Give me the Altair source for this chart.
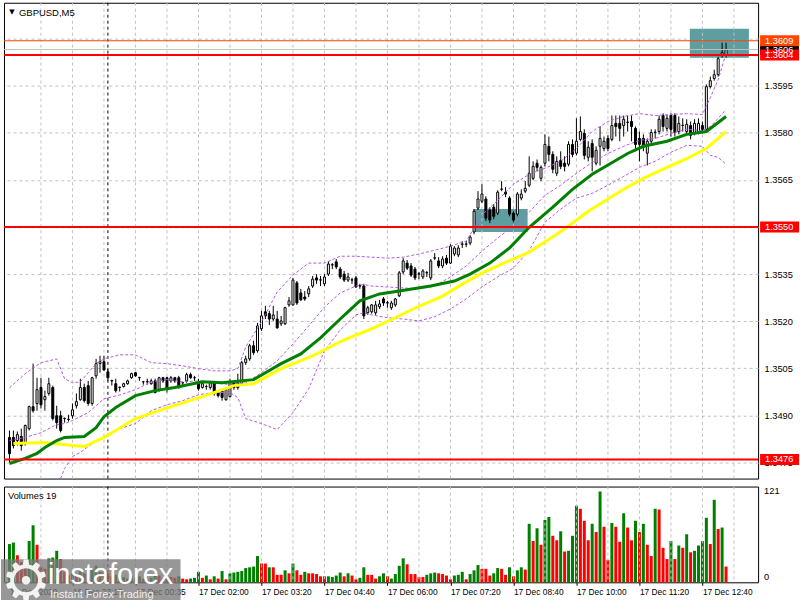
import altair as alt
import pandas as pd

FONT = "Liberation Sans"

# ---------------- price bars (GBPUSD M5) ----------------
OPEN = [1.34830,1.34830,1.34820,1.34833,1.34810,1.34858,1.34928,1.34938,1.34989,1.34950,
        1.34970,1.34989,1.34899,1.34899,1.34890,1.34887,1.34899,1.34931,1.34950,1.34989,
        1.34995,1.34938,1.35026,1.35065,1.35071,1.35039,1.35010,1.35001,1.34989,1.34992,
        1.35001,1.35020,1.35036,1.35020,1.35007,1.35007,1.35001,1.35010,1.34979,1.35020,
        1.35020,1.35010,1.35020,1.35020,1.35004,1.35010,1.35030,1.35020,1.35004,1.34989,
        1.34992,1.34989,1.35004,1.34973,1.34979,1.34950,1.34960,1.35004,1.34989,1.35001,
        1.35068,1.35080,1.35122,1.35106,1.35176,1.35230,1.35224,1.35207,1.35207,1.35192,
        1.35192,1.35252,1.35252,1.35322,1.35290,1.35277,1.35287,1.35312,1.35338,1.35331,
        1.35319,1.35350,1.35379,1.35389,1.35366,1.35350,1.35331,1.35331,1.35338,1.35312,
        1.35312,1.35227,1.35230,1.35227,1.35246,1.35271,1.35258,1.35243,1.35252,1.35281,
        1.35357,1.35385,1.35376,1.35366,1.35350,1.35341,1.35354,1.35338,1.35401,1.35392,
        1.35376,1.35401,1.35385,1.35414,1.35411,1.35445,1.35445,1.35449,1.35484,1.35560,
        1.35582,1.35589,1.35554,1.35563,1.35544,1.35620,1.35611,1.35592,1.35544,1.35541,
        1.35592,1.35614,1.35633,1.35655,1.35703,1.35655,1.35703,1.35757,1.35731,1.35671,
        1.35712,1.35703,1.35700,1.35763,1.35735,1.35779,1.35798,1.35722,1.35766,1.35703,
        1.35757,1.35750,1.35782,1.35779,1.35830,1.35830,1.35823,1.35833,1.35836,1.35814,
        1.35782,1.35782,1.35735,1.35773,1.35801,1.35804,1.35855,1.35814,1.35855,1.35855,
        1.35804,1.35823,1.35804,1.35823,1.35798,1.35801,1.35823,1.35811,1.35947,1.35973,
        1.35985,1.36046,1.36046]
HIGH = [1.34852,1.34852,1.34849,1.34858,1.34871,1.34931,1.35065,1.35020,1.35020,1.34979,
        1.35020,1.34995,1.34931,1.34915,1.34893,1.34902,1.34938,1.34970,1.35017,1.35001,
        1.35010,1.35023,1.35080,1.35090,1.35090,1.35048,1.35014,1.35017,1.34992,1.35004,
        1.35014,1.35036,1.35039,1.35023,1.35010,1.35017,1.35017,1.35017,1.35023,1.35023,
        1.35023,1.35026,1.35023,1.35026,1.35007,1.35036,1.35036,1.35026,1.35017,1.35007,
        1.34998,1.35010,1.35010,1.34979,1.34985,1.34989,1.35017,1.35010,1.35033,1.35074,
        1.35090,1.35128,1.35138,1.35195,1.35233,1.35249,1.35233,1.35249,1.35233,1.35217,
        1.35246,1.35277,1.35338,1.35328,1.35303,1.35296,1.35312,1.35344,1.35350,1.35344,
        1.35350,1.35392,1.35385,1.35398,1.35373,1.35360,1.35354,1.35338,1.35344,1.35319,
        1.35319,1.35249,1.35255,1.35265,1.35268,1.35277,1.35265,1.35265,1.35274,1.35360,
        1.35401,1.35395,1.35385,1.35373,1.35357,1.35366,1.35360,1.35398,1.35417,1.35404,
        1.35407,1.35411,1.35445,1.35439,1.35442,1.35455,1.35455,1.35474,1.35557,1.35614,
        1.35636,1.35598,1.35563,1.35573,1.35617,1.35646,1.35627,1.35598,1.35550,1.35611,
        1.35620,1.35646,1.35725,1.35709,1.35715,1.35696,1.35795,1.35788,1.35741,1.35725,
        1.35741,1.35725,1.35773,1.35779,1.35846,1.35852,1.35811,1.35773,1.35779,1.35757,
        1.35820,1.35788,1.35792,1.35855,1.35855,1.35855,1.35855,1.35855,1.35855,1.35820,
        1.35804,1.35795,1.35782,1.35811,1.35811,1.35855,1.35862,1.35858,1.35862,1.35862,
        1.35852,1.35846,1.35843,1.35836,1.35843,1.35846,1.35836,1.35954,1.35979,1.36001,
        1.36042,1.36087,1.36087]
LOW = [1.34750,1.34795,1.34804,1.34788,1.34804,1.34852,1.34909,1.34915,1.34922,1.34915,
       1.34963,1.34884,1.34858,1.34846,1.34877,1.34880,1.34890,1.34922,1.34947,1.34941,
       1.34931,1.34931,1.35017,1.35036,1.35042,1.35010,1.34995,1.34973,1.34976,1.34989,
       1.34998,1.35017,1.35023,1.35010,1.34998,1.34998,1.34998,1.34970,1.34976,1.35004,
       1.34973,1.35004,1.35004,1.34985,1.34995,1.35004,1.35017,1.35010,1.34979,1.34985,
       1.34982,1.34982,1.34963,1.34957,1.34947,1.34947,1.34957,1.34982,1.34982,1.34995,
       1.35061,1.35074,1.35093,1.35100,1.35169,1.35207,1.35188,1.35201,1.35176,1.35185,
       1.35188,1.35246,1.35249,1.35252,1.35265,1.35265,1.35277,1.35306,1.35319,1.35312,
       1.35312,1.35344,1.35366,1.35366,1.35334,1.35325,1.35325,1.35319,1.35306,1.35303,
       1.35207,1.35220,1.35224,1.35220,1.35239,1.35249,1.35243,1.35236,1.35246,1.35277,
       1.35350,1.35363,1.35341,1.35331,1.35334,1.35334,1.35341,1.35331,1.35395,1.35369,
       1.35369,1.35379,1.35382,1.35407,1.35404,1.35433,1.35436,1.35442,1.35477,1.35554,
       1.35576,1.35519,1.35512,1.35525,1.35538,1.35614,1.35595,1.35534,1.35515,1.35534,
       1.35585,1.35608,1.35627,1.35649,1.35677,1.35646,1.35693,1.35709,1.35671,1.35662,
       1.35684,1.35677,1.35693,1.35722,1.35728,1.35773,1.35715,1.35709,1.35677,1.35696,
       1.35696,1.35741,1.35741,1.35773,1.35788,1.35773,1.35788,1.35804,1.35773,1.35741,
       1.35709,1.35741,1.35696,1.35766,1.35782,1.35795,1.35804,1.35804,1.35788,1.35788,
       1.35795,1.35804,1.35798,1.35779,1.35792,1.35795,1.35798,1.35804,1.35941,1.35966,
       1.35979,1.36039,1.36039]
CLOSE = [1.34778,1.34804,1.34839,1.34804,1.34868,1.34928,1.34915,1.34982,1.34934,1.34960,
         1.35001,1.34890,1.34877,1.34852,1.34891,1.34888,1.34918,1.34944,1.34989,1.34947,
         1.34938,1.35020,1.35065,1.35071,1.35045,1.35020,1.35011,1.34979,1.34990,1.35001,
         1.35010,1.35033,1.35026,1.35021,1.35007,1.35008,1.35010,1.34973,1.35020,1.35010,
         1.34985,1.35020,1.35010,1.34992,1.35004,1.35030,1.35020,1.35020,1.34985,1.35001,
         1.34992,1.35004,1.34970,1.34963,1.34957,1.34982,1.35007,1.34989,1.35004,1.35068,
         1.35080,1.35122,1.35100,1.35185,1.35217,1.35217,1.35207,1.35220,1.35179,1.35201,
         1.35243,1.35265,1.35331,1.35258,1.35268,1.35271,1.35303,1.35334,1.35331,1.35332,
         1.35341,1.35382,1.35380,1.35373,1.35341,1.35331,1.35341,1.35332,1.35309,1.35313,
         1.35217,1.35243,1.35252,1.35252,1.35255,1.35258,1.35259,1.35258,1.35271,1.35354,
         1.35392,1.35369,1.35347,1.35338,1.35351,1.35360,1.35355,1.35392,1.35402,1.35376,
         1.35398,1.35385,1.35439,1.35433,1.35433,1.35446,1.35446,1.35468,1.35550,1.35589,
         1.35605,1.35528,1.35522,1.35534,1.35611,1.35621,1.35605,1.35541,1.35522,1.35605,
         1.35605,1.35623,1.35671,1.35693,1.35690,1.35690,1.35763,1.35731,1.35684,1.35709,
         1.35693,1.35693,1.35763,1.35731,1.35773,1.35804,1.35728,1.35754,1.35722,1.35744,
         1.35782,1.35773,1.35750,1.35823,1.35820,1.35814,1.35843,1.35834,1.35820,1.35763,
         1.35763,1.35754,1.35773,1.35801,1.35802,1.35843,1.35820,1.35846,1.35811,1.35801,
         1.35830,1.35824,1.35827,1.35792,1.35830,1.35830,1.35811,1.35947,1.35966,1.35985,
         1.36036,1.36055,1.36065]

# ---------------- tick volumes ----------------
VOLUME = [51,53,36,27,24,55,76,50,20,18,32,33,42,31,14,10,12,9,15,12,
          10,18,22,14,16,12,8,10,6,7,5,9,6,8,5,4,6,11,9,6,
          10,7,6,8,5,4,5,6,14,6,9,4,8,5,15,4,12,13,14,15,
          19,20,21,35,25,25,20,20,10,10,16,12,25,16,10,14,12,12,11,8,
          8,8,7,9,13,8,12,9,4,6,20,10,10,5,8,12,8,5,11,22,
          32,24,11,11,7,7,10,12,13,12,11,9,4,9,10,14,4,11,16,23,
          18,18,9,12,19,18,10,20,8,16,20,17,78,55,72,50,83,87,62,56,
          68,41,42,62,102,98,82,56,78,67,121,74,30,79,74,54,92,73,56,82,
          67,78,50,35,98,97,46,31,55,31,49,46,64,40,42,49,55,86,51,110,
          71,73,21]
VOL_UP = [1,1,0,0,0,1,1,0,0,0,1,1,1,0,0,0,1,0,1,0,
          0,1,1,0,1,0,0,1,0,1,0,1,0,1,0,0,1,1,0,0,
          1,0,0,1,0,0,1,1,1,0,1,0,1,0,1,0,1,1,1,1,
          1,1,1,1,0,0,1,0,0,0,1,0,1,0,0,1,0,0,0,0,
          0,1,1,1,1,0,1,0,0,1,1,0,0,0,1,1,0,1,1,1,
          1,0,0,0,0,0,1,1,1,0,0,0,0,1,1,1,0,1,1,1,
          0,0,0,1,1,0,0,1,0,1,1,0,1,0,1,0,1,1,0,0,
          1,0,1,1,1,0,0,0,1,0,1,0,0,1,0,0,1,0,0,1,
          0,1,0,0,1,0,0,0,1,0,1,0,1,0,1,1,1,1,0,1,
          0,1,0]

# ---------------- moving averages (read at sample bars) ----------------
GREEN_I = [0,4,7,9,12,14,19,22,24,27,32,37,42,49,54,62,69,74,79,84,
           89,94,99,107,113,117,122,127,132,138,143,148,157,161,167,172,177,182]
GREEN_P = [1.34747,1.34763,1.34779,1.34798,1.34820,1.34830,1.34833,1.34861,1.34896,1.34925,
           1.34963,1.34979,1.34989,1.35007,1.35004,1.35014,1.35065,1.35096,1.35147,1.35207,
           1.35265,1.35287,1.35296,1.35312,1.35328,1.35350,1.35385,1.35433,1.35499,1.35563,
           1.35620,1.35668,1.35734,1.35757,1.35773,1.35795,1.35804,1.35852]
YELLOW_I = [1,9,16,19,24,32,41,49,57,62,69,77,85,92,98,103,110,115,120,125,
            132,139,142,147,156,161,166,172,177,182]
YELLOW_P = [1.34811,1.34814,1.34804,1.34801,1.34830,1.34890,1.34928,1.34960,1.34995,1.35001,
            1.35049,1.35090,1.35141,1.35176,1.35211,1.35242,1.35280,1.35318,1.35353,1.35382,
            1.35420,1.35477,1.35503,1.35550,1.35620,1.35655,1.35684,1.35718,1.35750,1.35804]

# ---------------- Bollinger bands (read at sample bars) ----------------
BB_UP_I = [0,4,8,12,14,16,18,20,22,24,28,32,36,40,44,48,52,56,58,60,
           64,68,72,76,80,84,88,92,96,100,104,108,112,116,120,124,128,132,136,140,
           144,148,152,156,160,164,168,172,176,178,180,182]
BB_UP_P = [1.34988,1.35033,1.35068,1.35080,1.35017,1.35004,1.35007,1.35036,1.35065,1.35080,
           1.35093,1.35093,1.35068,1.35065,1.35058,1.35049,1.35042,1.35042,1.35049,1.35118,
           1.35198,1.35293,1.35347,1.35385,1.35385,1.35407,1.35407,1.35404,1.35401,1.35404,
           1.35414,1.35426,1.35439,1.35455,1.35538,1.35585,1.35636,1.35668,1.35687,1.35709,
           1.35750,1.35804,1.35836,1.35852,1.35861,1.35855,1.35858,1.35861,1.35858,1.35912,
           1.35969,1.36052]
BB_MID_I = [0,4,8,12,14,16,20,24,28,32,36,40,44,48,52,56,60,64,68,72,
            76,80,84,88,90,92,96,100,104,108,112,116,120,124,128,132,136,140,144,148,
            152,156,160,164,168,172,176,178,180,182]
BB_MID_P = [1.34820,1.34830,1.34845,1.34871,1.34874,1.34884,1.34909,1.34953,1.34965,1.34982,
            1.35007,1.35014,1.35007,1.35010,1.35004,1.34998,1.35004,1.35036,1.35074,1.35128,
            1.35185,1.35245,1.35290,1.35312,1.35317,1.35312,1.35309,1.35306,1.35303,1.35312,
            1.35341,1.35376,1.35423,1.35465,1.35503,1.35547,1.35601,1.35633,1.35671,1.35706,
            1.35734,1.35757,1.35776,1.35782,1.35798,1.35811,1.35807,1.35820,1.35846,1.35874]
BB_LOW_I = [13,14,16,18,20,24,28,32,36,40,44,48,52,56,58,60,64,68,72,76,
            80,84,88,90,92,96,100,104,108,112,116,120,124,128,132,136,140,144,148,152,
            156,160,164,168,172,176,178,180,182]
BB_LOW_P = [1.34699,1.34731,1.34769,1.34782,1.34801,1.34833,1.34858,1.34874,1.34915,1.34934,
            1.34947,1.34966,1.34973,1.34973,1.34957,1.34890,1.34874,1.34855,1.34909,1.34985,
            1.35106,1.35172,1.35220,1.35227,1.35220,1.35211,1.35207,1.35201,1.35214,1.35239,
            1.35271,1.35309,1.35341,1.35369,1.35426,1.35515,1.35557,1.35592,1.35607,1.35633,
            1.35661,1.35690,1.35709,1.35738,1.35760,1.35757,1.35728,1.35722,1.35700]

# ---------------- levels, zones, axes ----------------
LEVEL_P = [1.36065, 1.36093, 1.36048, 1.3550, 1.3476]
LEVEL_TXT = ["1.3606", "1.3609", "1.3604", "1.3550", "1.3476"]
LEVEL_BG = ["#000000", "#FF4500", "#FF0000", "#FF0000", "#FF0000"]
LEVEL_LINE = ["#C0C0C0", "#FF4500", "#FF0000", "#FF0000", "#FF0000"]
LEVEL_W = [1, 1, 2, 2, 2]

ZONE_I0 = [117.8, 172.8]
ZONE_I1 = [131.6, 187.8]
ZONE_P0 = [1.35484, 1.36039]
ZONE_P1 = [1.35557, 1.36131]

PRICE_TICKS = [1.3475, 1.3490, 1.3505, 1.3520, 1.3535, 1.3550, 1.3565, 1.3580, 1.3595, 1.3610]
TIME_TICK_I = [0, 16, 32, 48, 64, 80, 96, 112, 128, 144, 160, 176]
TIME_LABELS = ["16 Dec 2020", "16 Dec 23:15", "17 Dec 00:35", "17 Dec 02:00", "17 Dec 03:20",
               "17 Dec 04:40", "17 Dec 06:00", "17 Dec 07:20", "17 Dec 08:40", "17 Dec 10:00",
               "17 Dec 11:20", "17 Dec 12:40"]
GRID_I = [8, 16, 24, 32, 40, 48, 56, 64, 72, 80, 88, 96, 104, 112, 120, 128, 136, 144,
          152, 160, 168, 176, 184]
DAY_SEP_I = [25]
VOL_LABELS = [121, 0]

# ---------------- build ----------------
W, H_MAIN, H_VOL = 756, 477, 96
xs = alt.Scale(domain=[-0.125, 188.875], nice=False, zero=False)
ys = alt.Scale(domain=[1.34699, 1.36214], nice=False, zero=False)
vs = alt.Scale(domain=[0, 127.6], nice=False, zero=False)

yax = alt.Axis(orient="right", values=PRICE_TICKS, format=".4f", grid=True,
               gridColor="#C0C0C0", gridDash=[3, 3], ticks=False, domain=False,
               labelFont=FONT, labelFontSize=9.3, labelColor="black", labelPadding=6,
               title=None, labelOverlap=False, labelFlush=False)

label_expr = "[" + ",".join("'%s'" % t for t in TIME_LABELS) + "][round(datum.value/16)]"
vax = alt.Axis(values=TIME_TICK_I, labelExpr=label_expr, labelAlign="left",
               labelBaseline="top", labelFont=FONT, labelFontSize=8.4, labelColor="black",
               tickSize=3, tickColor="black", domain=False, grid=False, labelPadding=2,
               title=None, labelOverlap=False, labelFlush=False)

n = len(OPEN)
bars = pd.DataFrame({"idx": list(range(n)), "o": OPEN, "h": HIGH, "l": LOW, "c": CLOSE})
vol = pd.DataFrame({"idx": list(range(n)), "v": VOLUME, "up": VOL_UP})
green = pd.DataFrame({"i": GREEN_I, "p": GREEN_P})
yellow = pd.DataFrame({"i": YELLOW_I, "p": YELLOW_P})
bb = pd.concat([
    pd.DataFrame({"i": BB_UP_I, "p": BB_UP_P, "band": "up"}),
    pd.DataFrame({"i": BB_MID_I, "p": BB_MID_P, "band": "mid"}),
    pd.DataFrame({"i": BB_LOW_I, "p": BB_LOW_P, "band": "low"}),
])
levels = pd.DataFrame({"p": LEVEL_P, "t": LEVEL_TXT, "bg": LEVEL_BG,
                       "lc": LEVEL_LINE, "w": LEVEL_W})
zones = pd.DataFrame({"i0": ZONE_I0, "i1": ZONE_I1, "p0": ZONE_P0, "p1": ZONE_P1})
grid = pd.DataFrame({"g": GRID_I})
daysep = pd.DataFrame({"g": DAY_SEP_I})
one = pd.DataFrame({"a": [0]})

X = lambda f: alt.X(f, scale=xs, axis=None)
Y = lambda f: alt.Y(f, scale=ys, axis=yax)

zone_l = alt.Chart(zones).mark_rect(color="#5F9EA0").encode(
    x=X("i0:Q"), x2="i1:Q", y=Y("p0:Q"), y2="p1:Q")
vgrid_l = alt.Chart(grid).mark_rule(color="#C0C0C0", strokeDash=[3, 3]).encode(x=X("g:Q"))
day_l = alt.Chart(daysep).mark_rule(color="black", strokeDash=[3, 3]).encode(x=X("g:Q"))
wick_l = alt.Chart(bars).mark_rule(color="black", strokeWidth=1).encode(
    x=X("idx:Q"), y=Y("l:Q"), y2="h:Q")
body_l = alt.Chart(bars).mark_bar(size=2, stroke="black", strokeWidth=1).encode(
    x=X("idx:Q"), y=Y("o:Q"), y2="c:Q",
    fill=alt.condition("datum.c >= datum.o", alt.value("white"), alt.value("black")))
bb_l = alt.Chart(bb).mark_line(color="#B45AE0", strokeWidth=1, strokeDash=[3, 2]).encode(
    x=X("i:Q"), y=Y("p:Q"), detail="band:N")
yel_l = alt.Chart(yellow).mark_line(color="#FFFF00", strokeWidth=3).encode(x=X("i:Q"), y=Y("p:Q"))
grn_l = alt.Chart(green).mark_line(color="#008000", strokeWidth=3).encode(x=X("i:Q"), y=Y("p:Q"))
lvl_l = alt.Chart(levels).mark_rule().encode(
    y=Y("p:Q"), color=alt.Color("lc:N", scale=None), strokeWidth=alt.StrokeWidth("w:Q", scale=None))
lbl_box = alt.Chart(levels).mark_tick(orient="horizontal", size=39, thickness=11, opacity=1).encode(
    x=alt.value(777.5), y=Y("p:Q"), color=alt.Color("bg:N", scale=None))
lbl_txt = alt.Chart(levels).mark_text(align="left", baseline="middle", font=FONT,
                                      fontSize=9.3, color="white").encode(
    x=alt.value(763), y=Y("p:Q"), text="t:N")
title_l = alt.Chart(one).mark_text(align="left", baseline="middle", font=FONT, fontSize=9.5,
                                   color="black", text="GBPUSD,M5").encode(
    x=alt.value(15), y=alt.value(10))
tri_l = alt.Chart(one).mark_text(align="center", baseline="middle", font="DejaVu Sans",
                                 fontSize=7, color="black", text="\u25BC").encode(
    x=alt.value(8), y=alt.value(9))

main = alt.layer(zone_l, vgrid_l, day_l, wick_l, body_l, bb_l, yel_l, grn_l, lvl_l,
                 lbl_box, lbl_txt, title_l, tri_l).properties(width=W, height=H_MAIN)

XV = lambda f: alt.X(f, scale=xs, axis=vax)
vbar_l = alt.Chart(vol).mark_bar(size=3).encode(
    x=XV("idx:Q"), y=alt.Y("v:Q", scale=vs, axis=None),
    color=alt.condition("datum.up == 1", alt.value("#008000"), alt.value("#FF0000")))
vgrid2_l = alt.Chart(grid).mark_rule(color="#C0C0C0", strokeDash=[3, 3]).encode(x=XV("g:Q"))
day2_l = alt.Chart(daysep).mark_rule(color="black", strokeDash=[3, 3]).encode(x=XV("g:Q"))
vtitle_l = alt.Chart(one).mark_text(align="left", baseline="middle", font=FONT, fontSize=9.3,
                                    color="black", text="Volumes 19").encode(
    x=alt.value(4), y=alt.value(9))
vl_df = pd.DataFrame({"v": VOL_LABELS, "t": [str(v) for v in VOL_LABELS]})
vmax_l = alt.Chart(vl_df.iloc[:1]).mark_text(align="left", baseline="middle", font=FONT,
                                             fontSize=9.3, color="black").encode(
    x=alt.value(762), y=alt.Y("v:Q", scale=vs, axis=None), text="t:N")
vmin_l = alt.Chart(vl_df.iloc[1:]).mark_text(align="left", baseline="bottom", font=FONT,
                                             fontSize=9.3, color="black").encode(
    x=alt.value(762), y=alt.Y("v:Q", scale=vs, axis=None), text="t:N")
wm_rect = alt.Chart(one).mark_rect(color="#7A7A7A", opacity=0.78).encode(
    x=alt.value(-3), x2=alt.value(177), y=alt.value(73), y2=alt.value(118))
wm_gear = alt.Chart(one).mark_text(align="center", baseline="alphabetic", font="DejaVu Sans",
                                   fontSize=56, color="white", opacity=0.9, text="\u2699").encode(
    x=alt.value(22), y=alt.value(114))
wm_big = alt.Chart(one).mark_text(align="left", baseline="alphabetic", font=FONT,
                                  fontSize=29, color="white", text="instaforex").encode(
    x=alt.value(44), y=alt.value(98))
wm_small = alt.Chart(one).mark_text(align="left", baseline="alphabetic", font=FONT,
                                    fontSize=11, color="#EEEEEE", text="Instant Forex Trading").encode(
    x=alt.value(46), y=alt.value(112))

volume = alt.layer(vbar_l, vgrid2_l, day2_l, vtitle_l, vmax_l, vmin_l,
                   wm_rect, wm_gear, wm_big, wm_small).properties(width=W, height=H_VOL)

chart = alt.vconcat(main, volume, spacing=4).properties(
    padding={"left": 0, "top": 1, "right": 0, "bottom": 0},
    background="white",
).configure_view(stroke="black", strokeWidth=1)

chart.save("out.html", embed_options={"renderer": "svg", "actions": False})
